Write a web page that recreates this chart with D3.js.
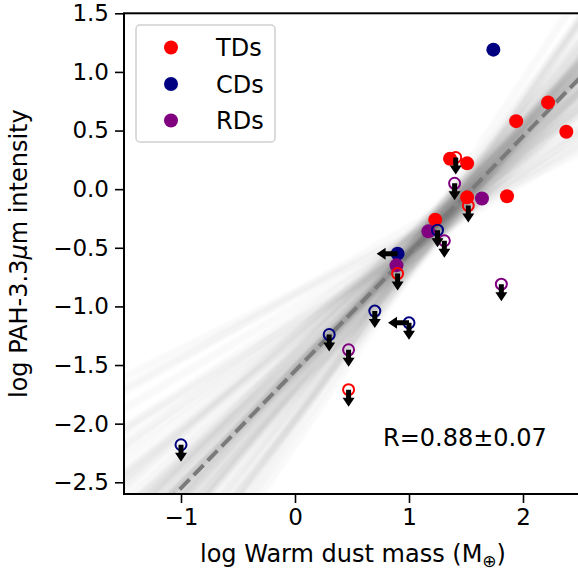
<!DOCTYPE html>
<html>
<head>
<meta charset="UTF-8">
<script src="https://d3js.org/d3.v7.min.js"></script>
<style>
  body { margin: 0; background: #fff; font-family: "DejaVu Sans", sans-serif; }
  text { fill: #000; }
</style>
</head>
<body>
<svg id="chart" width="578" height="576"></svg>
<script>
// ---- data ----
const groups = ["TDs", "CDs", "RDs"];
const groupColors = ["#ff0000", "#000080", "#800080"];

// detections (filled)
const detX   = [2.22, 2.38, 1.94, 1.86, 1.36, 1.51, 1.51, 1.23, 1.74, 0.90, 1.64, 1.17, 0.89];
const detY   = [0.74, 0.49, 0.58, -0.06, 0.26, 0.22, -0.07, -0.26, 1.19, -0.55, -0.08, -0.36, -0.65];
const detGrp = ["TDs","TDs","TDs","TDs","TDs","TDs","TDs","TDs","CDs","CDs","RDs","RDs","RDs"];
const detXLim = [0,0,0,0,0,0,0,0,0,1,0,0,0];

// upper limits in y (open circles)
const limX   = [1.41, 1.52, 0.90, 0.47, 1.25, 0.70, 1.00, 0.30, -1.00, 1.40, 1.31, 1.81, 0.47];
const limY   = [0.27, -0.14, -0.72, -1.71, -0.35, -1.04, -1.14, -1.24, -2.18, 0.05, -0.44, -0.81, -1.37];
const limGrp = ["TDs","TDs","TDs","TDs","CDs","CDs","CDs","CDs","CDs","RDs","RDs","RDs","RDs"];
const limXLim = [0,0,0,0,0,0,1,0,0,0,0,0,0];

// best fit line (slope, intercept)
const fitSlope = 1.0, fitIntercept = -1.55;

// sampled fits: slope and value at x = 1.3 (where the fan is narrowest)
const pivotX = 1.3;
const sampleSlope = [
  0.98,1.02,0.95,1.05,0.91,1.08,0.93,1.07,0.99,1.01,
  0.96,1.04,0.89,1.11,0.97,1.03,0.92,1.06,1.00,0.94,
  1.09,0.90,1.10,0.95,1.05,0.98,1.02,0.88,1.12,0.93,
  1.07,0.99,1.01,0.96,1.04,0.91,1.08,0.97,1.03,1.00,
  0.84,1.16,0.80,1.20,0.87,1.13,0.77,1.23,0.82,1.18,
  0.74,1.26,0.86,1.14,0.79,1.21,0.83,1.17,0.76,1.24,
  0.85,1.15,0.72,1.28,0.68,1.32,0.64,1.36,0.60,1.40,
  0.56,1.44,0.52,1.48,0.66,1.34,0.48,0.62,1.38,0.58];
const sampleMid = [
  -0.25,-0.19,-0.31,-0.22,-0.14,-0.35,-0.27,-0.21,-0.12,-0.37,
  -0.28,-0.17,-0.23,-0.33,-0.15,-0.26,-0.39,-0.20,-0.24,-0.30,
  -0.11,-0.29,-0.22,-0.34,-0.18,-0.27,-0.24,-0.36,-0.16,-0.25,
  -0.31,-0.19,-0.40,-0.13,-0.26,-0.21,-0.32,-0.10,-0.28,-0.23,
  -0.18,-0.34,-0.25,-0.14,-0.30,-0.22,-0.27,-0.38,-0.17,-0.29,
  -0.24,-0.33,-0.12,-0.26,-0.20,-0.35,-0.28,-0.15,-0.31,-0.22,
  -0.37,-0.23,-0.18,-0.29,-0.33,-0.13,-0.25,-0.20,-0.36,-0.27,
  -0.16,-0.30,-0.24,-0.11,-0.32,-0.21,-0.26,-0.34,-0.19,-0.25];

const xTicks = [-1, 0, 1, 2];
const yTicks = [-2.5, -2.0, -1.5, -1.0, -0.5, 0.0, 0.5, 1.0, 1.5];
const rText = "R=0.88\u00b10.07";

// ---- layout ----
const L = 124, R = 580, T = 13.3, B = 494;
const svg = d3.select("#chart");
const x = d3.scaleLinear().domain([-1.5, 2.5]).range([L, R]);
const y = d3.scaleLinear().domain([-2.6, 1.5]).range([B, T]);
const color = d3.scaleOrdinal().domain(groups).range(groupColors);
const [x0, x1] = x.domain();

const defs = svg.append("defs");
defs.append("clipPath").attr("id", "clip")
  .append("rect").attr("x", L).attr("y", T).attr("width", R - L).attr("height", B - T);
defs.append("filter").attr("id", "soft").attr("x", "-10%").attr("y", "-10%").attr("width", "120%").attr("height", "120%")
  .append("feGaussianBlur").attr("stdDeviation", 1.2);

const plot = svg.append("g").attr("clip-path", "url(#clip)");

// sampled regression lines
plot.append("g").attr("filter", "url(#soft)")
  .selectAll("line")
  .data(sampleSlope.map((s, i) => ({s, m: sampleMid[i]})))
  .enter().append("line")
  .attr("x1", x(x0) - 10).attr("x2", x(x1) + 10)
  .attr("y1", d => y(d.m + d.s * (x0 - 10 / 114 - pivotX)))
  .attr("y2", d => y(d.m + d.s * (x1 + 10 / 114 - pivotX)))
  .attr("stroke", "#000").attr("stroke-opacity", 0.024).attr("stroke-width", 8);

// best fit
plot.append("line")
  .attr("x1", x(x0)).attr("x2", x(x1))
  .attr("y1", y(fitIntercept + fitSlope * x0)).attr("y2", y(fitIntercept + fitSlope * x1))
  .attr("stroke", "#7a7a7a").attr("stroke-width", 4)
  .attr("stroke-dasharray", "14,6");

// arrows
function downArrow(px, py) {
  const len = 17, hw = 6, hl = 9, sw = 2.5;
  return `M${px - sw},${py} L${px + sw},${py} L${px + sw},${py + len - hl} L${px + hw},${py + len - hl}
          L${px},${py + len} L${px - hw},${py + len - hl} L${px - sw},${py + len - hl} Z`;
}
function leftArrow(px, py) {
  const len = 21, hw = 6, hl = 9, sw = 2.5;
  return `M${px},${py - sw} L${px},${py + sw} L${px - len + hl},${py + sw} L${px - len + hl},${py + hw}
          L${px - len},${py} L${px - len + hl},${py - hw} L${px - len + hl},${py - sw} Z`;
}

const det = detX.map((v, i) => ({x: v, y: detY[i], g: detGrp[i], xl: detXLim[i]}));
const lim = limX.map((v, i) => ({x: v, y: limY[i], g: limGrp[i], xl: limXLim[i]}));

plot.selectAll(".det").data(det).enter().append("circle")
  .attr("cx", d => x(d.x)).attr("cy", d => y(d.y)).attr("r", 7)
  .attr("fill", d => color(d.g));

plot.selectAll(".lim").data(lim).enter().append("circle")
  .attr("cx", d => x(d.x)).attr("cy", d => y(d.y)).attr("r", 5.5)
  .attr("fill", "none").attr("stroke", d => color(d.g)).attr("stroke-width", 2);

plot.selectAll(".darr").data(lim).enter().append("path")
  .attr("d", d => downArrow(x(d.x), y(d.y))).attr("fill", "#000");

plot.selectAll(".larr").data(det.concat(lim).filter(d => d.xl)).enter().append("path")
  .attr("d", d => leftArrow(x(d.x), y(d.y))).attr("fill", "#000");

// frame
svg.append("rect").attr("x", L).attr("y", T).attr("width", R - L).attr("height", B - T)
  .attr("fill", "none").attr("stroke", "#000").attr("stroke-width", 2);

// axes
const xAxis = svg.append("g").attr("transform", `translate(0,${B})`)
  .call(d3.axisBottom(x).tickValues(xTicks).tickFormat(d3.format("d")).tickSize(9).tickPadding(6));
const yAxis = svg.append("g").attr("transform", `translate(${L},0)`)
  .call(d3.axisLeft(y).tickValues(yTicks).tickFormat(d3.format(".1f")).tickSize(9).tickPadding(6));
[xAxis, yAxis].forEach(a => {
  a.select(".domain").remove();
  a.selectAll(".tick line").attr("stroke", "#000").attr("stroke-width", 1.6);
  a.selectAll(".tick text").attr("font-family", "DejaVu Sans").attr("font-size", 23).attr("fill", "#000");
});
xAxis.selectAll(".tick text").attr("dy", "0.71em");

// axis labels
const xl = svg.append("text").attr("x", (L + R) / 2 + 1).attr("y", 562)
  .attr("text-anchor", "middle").attr("font-size", 24);
xl.append("tspan").text("log Warm dust mass (M");
xl.append("tspan").attr("font-size", 17).attr("dy", 5).text("\u2295");
xl.append("tspan").attr("dy", -5).text(")");

const yl = svg.append("text").attr("transform", `translate(27,${(T + B) / 2}) rotate(-90)`)
  .attr("text-anchor", "middle").attr("font-size", 24);
yl.append("tspan").text("log PAH-3.3");
yl.append("tspan").attr("font-style", "italic").text("\u03bc");
yl.append("tspan").text("m intensity");

// R annotation
svg.append("text").attr("x", 383).attr("y", 446).attr("font-size", 24).text(rText);

// legend
const lg = svg.append("g");
lg.append("rect").attr("x", 136).attr("y", 25).attr("width", 139).attr("height", 117).attr("rx", 4)
  .attr("fill", "#fff").attr("fill-opacity", 0.8).attr("stroke", "#d0d0d0").attr("stroke-width", 1.5);
const ly = d3.scalePoint().domain(groups).range([47.5, 120.5]);
lg.selectAll(".lm").data(groups).enter().append("circle")
  .attr("cx", 171).attr("cy", d => ly(d)).attr("r", 7).attr("fill", d => color(d));
lg.selectAll(".lt").data(groups).enter().append("text")
  .attr("x", 216).attr("y", d => ly(d)).attr("dy", "0.36em").attr("font-size", 24).text(d => d);
</script>
</body>
</html>
